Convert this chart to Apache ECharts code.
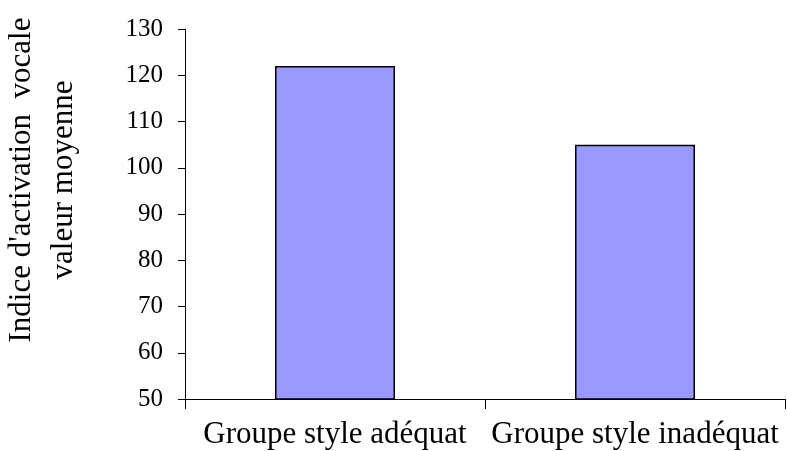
<!DOCTYPE html>
<html>
<head>
<meta charset="utf-8">
<script src="https://cdn.jsdelivr.net/npm/echarts@6/dist/echarts.min.js"></script>
<style>html,body{margin:0;padding:0;background:#fff}#c{width:787px;height:451px}</style>
</head>
<body>
<div id="c"></div>
<script>
var categories = ['Groupe style adéquat', 'Groupe style inadéquat'];
var values = [122, 105];
var yTicks = [50, 60, 70, 80, 90, 100, 110, 120, 130];
var yTitleLines = ["Indice d'activation  vocale", 'valeur moyenne'];

var chart = echarts.init(document.getElementById('c'), null, {renderer: 'canvas'});
var serif = '"Liberation Serif", "Times New Roman", serif';
chart.setOption({
  animation: false,
  backgroundColor: '#fff',
  grid: {left: 185, right: 2, top: 29, bottom: 52, containLabel: false},
  xAxis: {
    type: 'category',
    data: categories,
    boundaryGap: true,
    axisLine: {lineStyle: {color: '#000', width: 1}},
    axisTick: {show: true, length: 10, lineStyle: {color: '#000'}},
    axisLabel: {color: '#000', fontFamily: serif, fontSize: 31, margin: 20, interval: 0, hideOverlap: false}
  },
  yAxis: {
    type: 'value',
    min: yTicks[0],
    max: yTicks[yTicks.length - 1],
    interval: 10,
    axisLine: {show: true, lineStyle: {color: '#000', width: 1}},
    axisTick: {show: true, length: 7, lineStyle: {color: '#000'}},
    splitLine: {show: false},
    axisLabel: {color: '#000', fontFamily: serif, fontSize: 25, margin: 22}
  },
  series: [{
    type: 'bar',
    data: values,
    barWidth: '40%',
    itemStyle: {color: '#9999FF', borderColor: '#000', borderWidth: 1.5}
  }],
  graphic: [{
    type: 'text',
    x: 43, y: 180,
    rotation: Math.PI / 2,
    style: {
      text: yTitleLines.join('\n'),
      x: 0, y: 0,
      align: 'center', verticalAlign: 'middle',
      font: '31px ' + serif,
      lineHeight: 42,
      fill: '#000'
    }
  }]
});
</script>
</body>
</html>
